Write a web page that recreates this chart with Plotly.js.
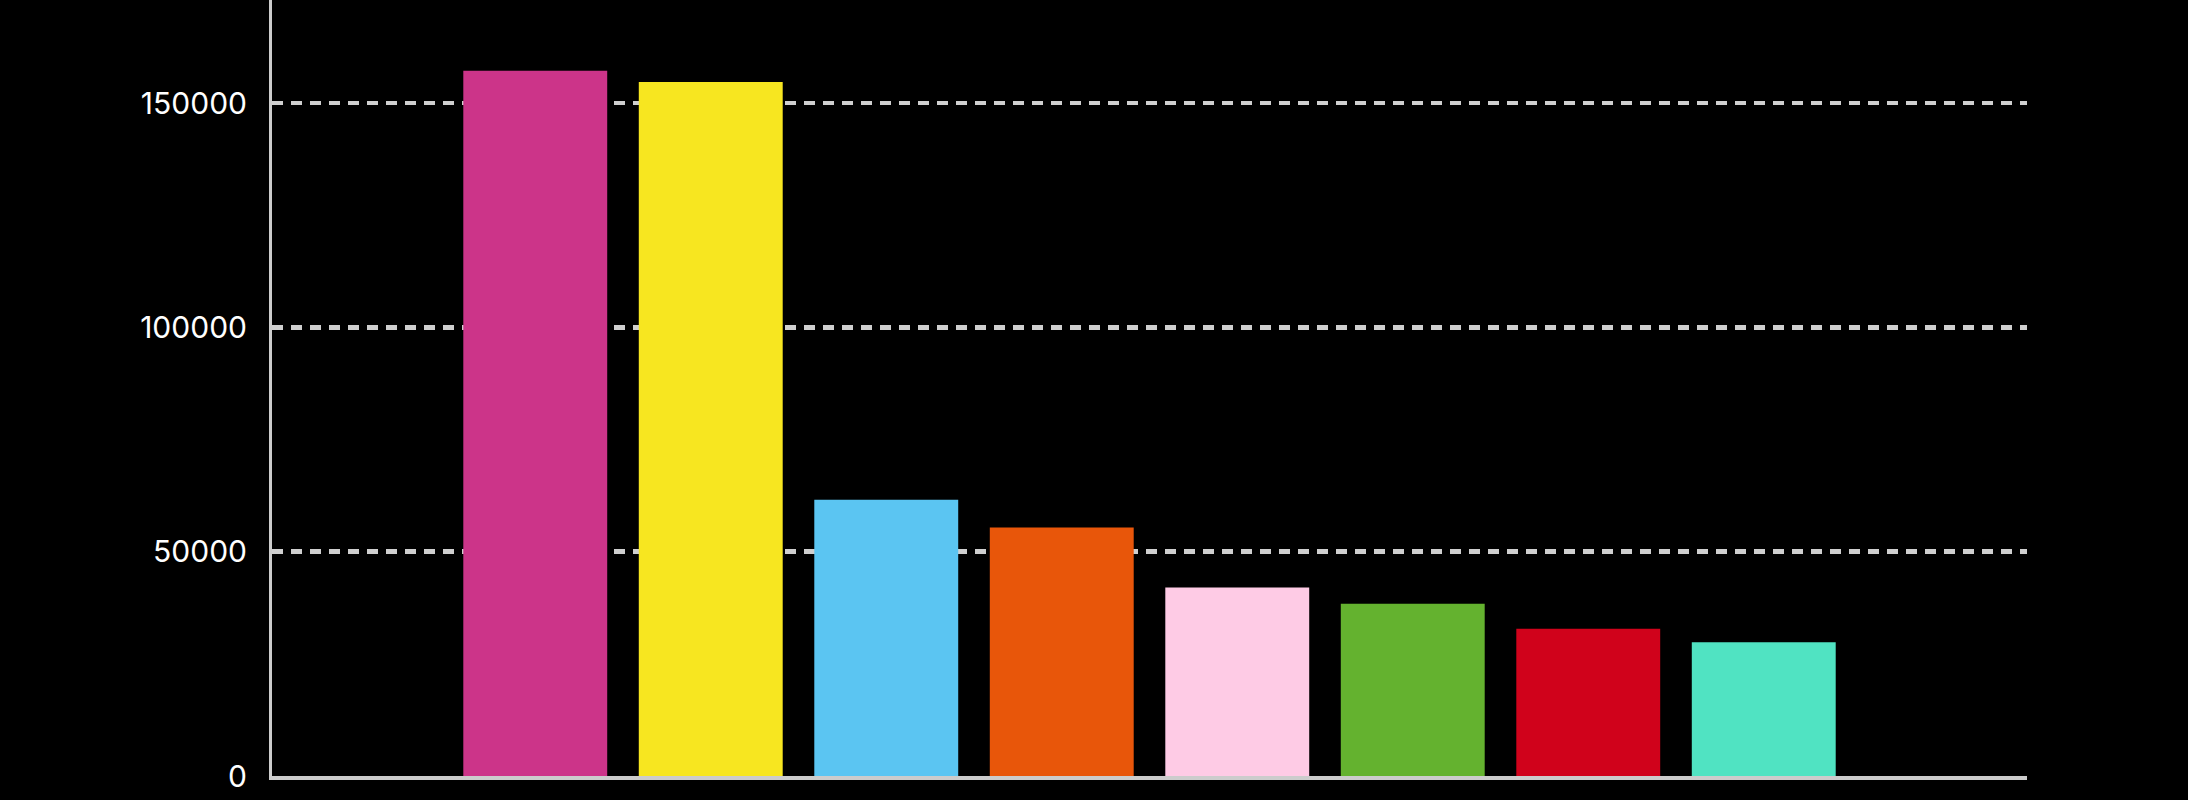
<!DOCTYPE html>
<html>
<head>
<meta charset="utf-8">
<script src="https://cdn.plot.ly/plotly-3.0.1.min.js"></script>
<style>
  html, body { margin: 0; padding: 0; background: #000000; }
  #chart { width: 2188px; height: 800px; }
</style>
</head>
<body>
<div id="chart"></div>
<script>
// Data (bar heights)
var categories = ["A", "B", "C", "D", "E", "F", "G", "H"];
var values = [157200, 154700, 61600, 55400, 42050, 38400, 32850, 29800];
var barColors = ["#CC3489", "#F7E620", "#5BC5F2", "#E8560A", "#FECBE5", "#64B22F", "#D0021B", "#50E3C2"];
var yTickValues = [0, 50000, 100000, 150000];
var yTickLabels = ["0", "50000", "100000", "150000"];

var trace = {
  type: "bar",
  x: categories,
  y: values,
  marker: { color: barColors, line: { width: 0 } },
  hoverinfo: "x+y"
};

var layout = {
  width: 2188,
  height: 800,
  paper_bgcolor: "#000000",
  plot_bgcolor: "#000000",
  margin: { l: 272, r: 161, t: 0, b: 24, pad: 0 },
  showlegend: false,
  bargap: 0.18,
  font: { family: "Inter, 'Open Sans', sans-serif", color: "#ffffff", size: 30 },
  xaxis: {
    type: "category",
    range: [-1.5, 8.5],
    showticklabels: false,
    ticks: "",
    showgrid: false,
    zeroline: false,
    showline: true,
    linecolor: "#cccccc",
    linewidth: 4,
    fixedrange: true
  },
  yaxis: {
    range: [0, 173000],
    tickmode: "array",
    tickvals: yTickValues,
    ticktext: yTickLabels,
    ticks: "",
    ticklabelstandoff: 16,
    tickfont: { family: "Inter, 'Open Sans', sans-serif", color: "#ffffff", size: 30 },
    showgrid: true,
    gridcolor: "#cfcfcf",
    gridwidth: 4.5,
    griddash: "11px,8px",
    zeroline: false,
    showline: true,
    linecolor: "#cccccc",
    linewidth: 3,
    fixedrange: true
  }
};

Plotly.newPlot("chart", [trace], layout, { displayModeBar: false, staticPlot: true });
</script>
</body>
</html>
